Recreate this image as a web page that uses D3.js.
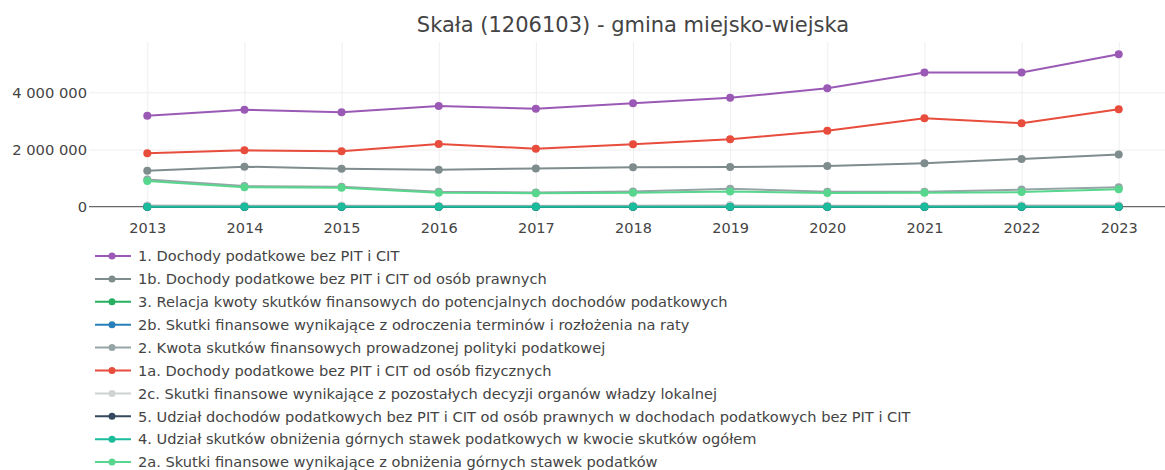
<!DOCTYPE html>
<html>
<head>
<meta charset="utf-8">
<script src="https://cdn.jsdelivr.net/npm/d3@7"></script>
<style>
  body { margin: 0; background: #fff; }
  text { font-family: "DejaVu Sans", Verdana, sans-serif; fill: #444; }
</style>
</head>
<body>
<div id="chart-area"></div>
<script>

var width = 1165,
    height = 470;

// data
var years = [2013, 2014, 2015, 2016, 2017, 2018, 2019, 2020, 2021, 2022, 2023];

var dochody       = [3180000, 3390000, 3300000, 3520000, 3430000, 3620000, 3810000, 4140000, 4690000, 4690000, 5330000];
var dochodyPrawne = [1260000, 1400000, 1330000, 1290000, 1340000, 1380000, 1390000, 1420000, 1520000, 1670000, 1830000];
var relacja       = [0.10, 0.08, 0.08, 0.06, 0.05, 0.05, 0.06, 0.05, 0.04, 0.04, 0.04];
var odroczenia    = [0, 0, 0, 0, 0, 0, 0, 0, 0, 0, 0];
var kwota         = [950000, 720000, 700000, 520000, 500000, 530000, 630000, 520000, 520000, 600000, 680000];
var dochodyFiz    = [1870000, 1970000, 1940000, 2190000, 2030000, 2180000, 2360000, 2660000, 3090000, 2920000, 3410000];
var pozostale     = [55000, 40000, 40000, 30000, 30000, 40000, 60000, 40000, 30000, 50000, 50000];
var udzialPrawne  = [0.40, 0.41, 0.40, 0.37, 0.39, 0.38, 0.37, 0.34, 0.32, 0.36, 0.34];
var udzialObniz   = [0.94, 0.94, 0.94, 0.95, 0.94, 0.93, 0.84, 0.92, 0.94, 0.85, 0.90];
var obnizenia     = [895000, 680000, 660000, 490000, 470000, 490000, 530000, 480000, 490000, 510000, 610000];

var seriesNames = [
  "1. Dochody podatkowe bez PIT i CIT",
  "1b. Dochody podatkowe bez PIT i CIT od osób prawnych",
  "3. Relacja kwoty skutków finansowych do potencjalnych dochodów podatkowych",
  "2b. Skutki finansowe wynikające z odroczenia terminów i rozłożenia na raty",
  "2. Kwota skutków finansowych prowadzonej polityki podatkowej",
  "1a. Dochody podatkowe bez PIT i CIT od osób fizycznych",
  "2c. Skutki finansowe wynikające z pozostałych decyzji organów władzy lokalnej",
  "5. Udział dochodów podatkowych bez PIT i CIT od osób prawnych w dochodach podatkowych bez PIT i CIT",
  "4. Udział skutków obniżenia górnych stawek podatkowych w kwocie skutków ogółem",
  "2a. Skutki finansowe wynikające z obniżenia górnych stawek podatków"
];
var seriesValues = [dochody, dochodyPrawne, relacja, odroczenia, kwota, dochodyFiz, pozostale, udzialPrawne, udzialObniz, obnizenia];
var seriesColors = ["#9b59b6", "#7f8c8d", "#27ae60", "#2980b9", "#95a5a6", "#e74c3c", "#d0d3d4", "#34495e", "#1abc9c", "#58d68d"];

var yTicks = [0, 2000000, 4000000];
var title = "Skała (1206103) - gmina miejsko-wiejska";

var plotLeft = 89, plotRight = 1177, plotTop = 42, plotBottom = 218;

var svg = d3.select("#chart-area").append("svg")
    .attr("width", width)
    .attr("height", height);

var x = d3.scaleLinear()
    .domain([2012.4, 2023.6])
    .range([plotLeft, plotRight]);

var y = d3.scaleLinear()
    .domain([-395000, 5760000])
    .range([plotBottom, plotTop]);

var pl = d3.formatLocale({decimal: ",", thousands: " ", grouping: [3], currency: ["", ""]});
var fmt = pl.format(",d");

// grid
svg.append("g")
  .attr("transform", "translate(0," + plotBottom + ")")
  .call(d3.axisBottom(x).tickValues(years).tickSize(-(plotBottom - plotTop)).tickFormat(""))
  .call(g => g.select(".domain").remove())
  .call(g => g.selectAll("line").attr("stroke", "#eee"));

svg.append("g")
  .attr("transform", "translate(" + plotLeft + ",0)")
  .call(d3.axisLeft(y).tickValues(yTicks.slice(1)).tickSize(-(plotRight - plotLeft)).tickFormat(""))
  .call(g => g.select(".domain").remove())
  .call(g => g.selectAll("line").attr("stroke", "#eee"));

// zero line
svg.append("line")
  .attr("x1", plotLeft).attr("x2", plotRight)
  .attr("y1", y(0)).attr("y2", y(0))
  .attr("stroke", "#444").attr("stroke-width", 1);

// tick labels
var xAxis = svg.append("g")
  .attr("transform", "translate(0," + plotBottom + ")")
  .call(d3.axisBottom(x).tickValues(years).tickSize(0).tickPadding(5).tickFormat(d3.format("d")));
xAxis.select(".domain").remove();
xAxis.selectAll("text").style("font-size", "14.5px").attr("fill", "#444")
  .style("font-family", "'DejaVu Sans', Verdana, sans-serif");

var yAxis = svg.append("g")
  .attr("transform", "translate(" + (plotLeft - 2) + ",0)")
  .call(d3.axisLeft(y).tickValues(yTicks).tickSize(0).tickPadding(0).tickFormat(fmt));
yAxis.select(".domain").remove();
yAxis.selectAll("text").style("font-size", "14.7px").attr("fill", "#444")
  .style("font-family", "'DejaVu Sans', Verdana, sans-serif");

// lines
var line = d3.line()
  .x((d, i) => x(years[i]))
  .y(d => y(d));

seriesValues.forEach(function(vals, s) {
  var g = svg.append("g").attr("class", "trace");
  g.append("path")
    .datum(vals)
    .attr("d", line)
    .attr("fill", "none")
    .attr("stroke", seriesColors[s])
    .attr("stroke-width", 2);
  g.selectAll("circle")
    .data(vals)
    .enter()
    .append("circle")
    .attr("cx", (d, i) => x(years[i]))
    .attr("cy", d => y(d))
    .attr("r", 4)
    .attr("fill", seriesColors[s]);
});

// title
svg.append("text")
  .attr("x", (plotLeft + plotRight) / 2)
  .attr("y", 32)
  .attr("text-anchor", "middle")
  .style("font-size", "21px")
  .text(title);

// legend
var legend = svg.append("g").attr("transform", "translate(95,256)");
var item = legend.selectAll(".item")
  .data(seriesNames)
  .enter()
  .append("g")
  .attr("class", "item")
  .attr("transform", (d, i) => "translate(0," + (i * 22.9) + ")");

item.append("line")
  .attr("x1", 0).attr("x2", 36)
  .attr("stroke", (d, i) => seriesColors[i])
  .attr("stroke-width", 2);
item.append("circle")
  .attr("cx", 17).attr("r", 3.5)
  .attr("fill", (d, i) => seriesColors[i]);
item.append("text")
  .attr("x", 43)
  .attr("dy", "0.36em")
  .style("font-size", "14.6px")
  .text(d => d);

</script>
</body>
</html>
